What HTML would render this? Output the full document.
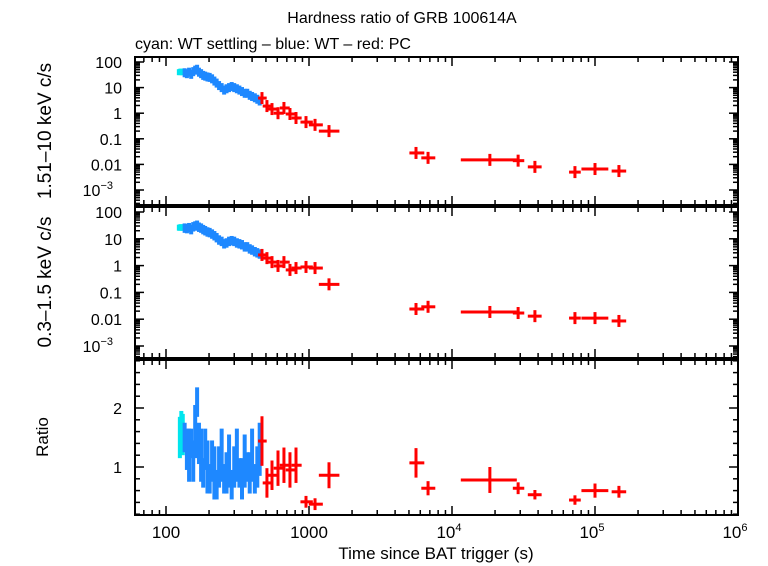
<!DOCTYPE html>
<html><head><meta charset="utf-8"><style>
body{margin:0;background:#fff}
svg{display:block;font-family:"Liberation Sans",sans-serif}
</style></head><body>
<svg id="c" width="768" height="566" viewBox="0 0 768 566">
<text x="402" y="23" font-size="16" text-anchor="middle">Hardness ratio of GRB 100614A</text>
<text x="135" y="49" font-size="16">cyan: WT settling – blue: WT – red: PC</text>
<text x="436" y="559" font-size="17" text-anchor="middle">Time since BAT trigger (s)</text>
<text transform="translate(51,131) rotate(-90)" font-size="19" text-anchor="middle">1.51–10 keV c/s</text>
<text transform="translate(51,282) rotate(-90)" font-size="19" text-anchor="middle">0.3–1.5 keV c/s</text>
<text transform="translate(48,437) rotate(-90)" font-size="17" text-anchor="middle">Ratio</text>
<g id="plots"></g>
</svg>
<script>
const wtT=[135,140,145,150,155,160,165,170,176,182,188,195,202,210,218,226,235,245,255,265,276,288,300,313,326,340,355,370,385,400,418,435,452];
const wtHard=[38,35,40,33,42,48,52,40,35,30,28,26,25,22,18,15,12,10,8,9,10,11,10,9,8,7,6,6,5,4.5,4,3.5,3];
const wtSoft=[25,24,26,22,28,30,32,27,25,22,20,18,17,15,13,11,9,8,6.5,7,8,8.5,8,7,6.5,6,5,5,4.2,3.8,3.3,3,2.7];
const wtRatio=[1.5,1.3,1.2,1.4,1.1,1.6,2.1,1.4,1.2,0.9,1.3,1.0,0.8,1.1,0.9,0.7,1.0,1.2,0.8,0.9,1.1,0.7,1.0,1.2,0.9,0.8,1.1,1.0,0.9,1.2,0.8,1.0,1.3];
const wsT=[125,128,131];
const wsHard=[40,42,40];
const wsSoft=[26,27,26];
const wsRatio=[1.5,1.6,1.55];
const pcT=[469,508,551,607,668,736,811,953,1102,1380,5600,6800,18400,29000,38000,72400,100000,147000];
const pcTlo=[455,490,530,585,645,710,780,900,1030,1210,5200,6300,11900,27500,35000,68000,83000,135000];
const pcThi=[490,530,585,645,710,780,860,1030,1210,1580,6200,7400,27500,31000,41000,77000,120000,160000];
const pcHard=[3.9,1.9,1.45,1.0,1.6,0.93,0.65,0.45,0.35,0.2,0.028,0.018,0.015,0.014,0.008,0.005,0.0066,0.0055];
const pcSoft=[2.5,1.9,1.35,0.97,1.35,0.69,0.81,0.89,0.81,0.2,0.024,0.029,0.0186,0.017,0.013,0.011,0.011,0.0086];
const pcRatio=[1.44,0.73,0.86,0.98,1.03,0.95,1.03,0.41,0.37,0.86,1.07,0.64,0.78,0.64,0.53,0.44,0.6,0.58];
const pcRerr=[0.42,0.25,0.25,0.3,0.3,0.3,0.3,0.1,0.1,0.22,0.25,0.12,0.22,0.1,0.08,0.08,0.12,0.1];
const xTickLabels=["100","1000","10⁴","10⁵","10⁶"];

const NS="http://www.w3.org/2000/svg";
const G=document.getElementById('plots');
const X0=135,X1=738;
const xs=t=>166+143*Math.log10(t/100);
function mk(tag,at,par){const e=document.createElementNS(NS,tag);for(const k in at)e.setAttribute(k,at[k]);(par||G).appendChild(e);return e;}
const panels=[
 {top:57,bot:205,log:true,name:'hard'},
 {top:207,bot:358,log:true,name:'soft'},
 {top:360,bot:515,log:false,name:'ratio'}];
const ysF=[v=>62+(2-Math.log10(v))*25.6, v=>212+(2-Math.log10(v))*26.8, v=>467-(v-1)*59];
function line(x1,y1,x2,y2,col,w,name){const l=mk('line',{x1,y1,x2,y2,stroke:col,'stroke-width':w});return l;}
function clipY(y,p){return Math.max(p.top,Math.min(p.bot,y));}
panels.forEach((p,i)=>{
 const ys=ysF[i];
 for(let d=1;d<=6;d++){for(let m=1;m<10;m++){const t=m*Math.pow(10,d);const x=xs(t);if(x<X0||x>X1)continue;const L=m==1?9:5;
  line(x,p.bot,x,p.bot-L,'#000',1.5,'x-tick');line(x,p.top,x,p.top+L,'#000',1.5,'x-tick');}}
 if(p.log){
  const labs=["100","10","1","0.1","0.01","10^-3"];
  for(let k=-4;k<=2;k++){for(let m=1;m<10;m++){const v=m*Math.pow(10,k);const y=ys(v);if(y<p.top||y>p.bot)continue;const L=m==1?9:5;
   line(X0,y,X0+L,y,'#000',1.5,'y-tick');line(X1,y,X1-L,y,'#000',1.5,'y-tick');}}
  labs.forEach((s,j)=>{const y=ys(Math.pow(10,2-j));const tx=mk('text',{x:122,y:y+6,'font-size':16,'text-anchor':'end'});
   
   if(s=="10^-3"){tx.textContent="10";const sp=mk('tspan',{dy:-7,'font-size':11},tx);sp.textContent="−3";tx.setAttribute('x',113);}else tx.textContent=s;});
 } else {
  for(let v=0.2;v<2.85;v+=0.2){const y=ys(v);if(y<p.top||y>p.bot)continue;const L=Math.abs(v-Math.round(v))<0.01?9:5;
   line(X0,y,X0+L,y,'#000',1.5,'y-tick');line(X1,y,X1-L,y,'#000',1.5,'y-tick');}
  [1,2].forEach(v=>{const tx=mk('text',{x:122,y:ys(v)+6,'font-size':16,'text-anchor':'end'});tx.textContent=String(v);});
 }
 const vals=[[wtHard,wsHard,pcHard],[wtSoft,wsSoft,pcSoft],[wtRatio,wsRatio,pcRatio]][i];
 wsT.forEach((t,j)=>{const x=xs(t),v=vals[1][j];
  if(p.log){line(x-3,clipY(ys(v),p),x+3,clipY(ys(v),p),'#00e5ee',6,'wt-settling-point');line(x,ys(v*1.3),x,ys(v/1.3),'#00e5ee',4,'wt-settling-point');}
  else{line(x,clipY(ys(v+0.35),p),x,clipY(ys(v-0.35),p),'#00e5ee',4,'wt-settling-point');}});
 wtT.forEach((t,j)=>{const x=xs(t),v=vals[0][j];const xa=xs(j>0?(wtT[j-1]+t)/2:t-2),xb=xs(j<wtT.length-1?(wtT[j+1]+t)/2:t+2);
  if(p.log){line(xa,ys(v),xb,ys(v),'#1e88ff',6,'wt-point');line(x,ys(v*1.5),x,ys(v/1.5),'#1e88ff',4,'wt-point');}
  else{const e=0.25+0.1*(j%3);line(xa,ys(v),xb,ys(v),'#1e88ff',4,'wt-point');line(x,clipY(ys(v+e),p),x,clipY(ys(v-e),p),'#1e88ff',4,'wt-point');}});
 pcT.forEach((t,j)=>{const x=xs(t),v=vals[2][j];
  line(xs(pcTlo[j])-2,ys(v),xs(pcThi[j])+2,ys(v),'#ff0000',3,'pc-point');
  if(p.log){line(x,ys(v)-6,x,ys(v)+6,'#ff0000',3,'pc-point');}
  else{line(x,clipY(ys(v+pcRerr[j]),p),x,clipY(ys(v-pcRerr[j]),p),'#ff0000',3,'pc-point');}});
 const r=mk('rect',{x:X0,y:p.top,width:X1-X0,height:p.bot-p.top,fill:'none',stroke:'#000','stroke-width':2});
 
});
xTickLabels.forEach((s,j)=>{const x=xs(Math.pow(10,j+2));const tx=mk('text',{x:x,y:538,'font-size':17,'text-anchor':'middle'});
 
 if(j>=2){tx.textContent="10";const sp=mk('tspan',{dy:-7,'font-size':11},tx);sp.textContent=String(j+2);tx.setAttribute('x',x-3);}else tx.textContent=s;});
</script>
</body></html>
